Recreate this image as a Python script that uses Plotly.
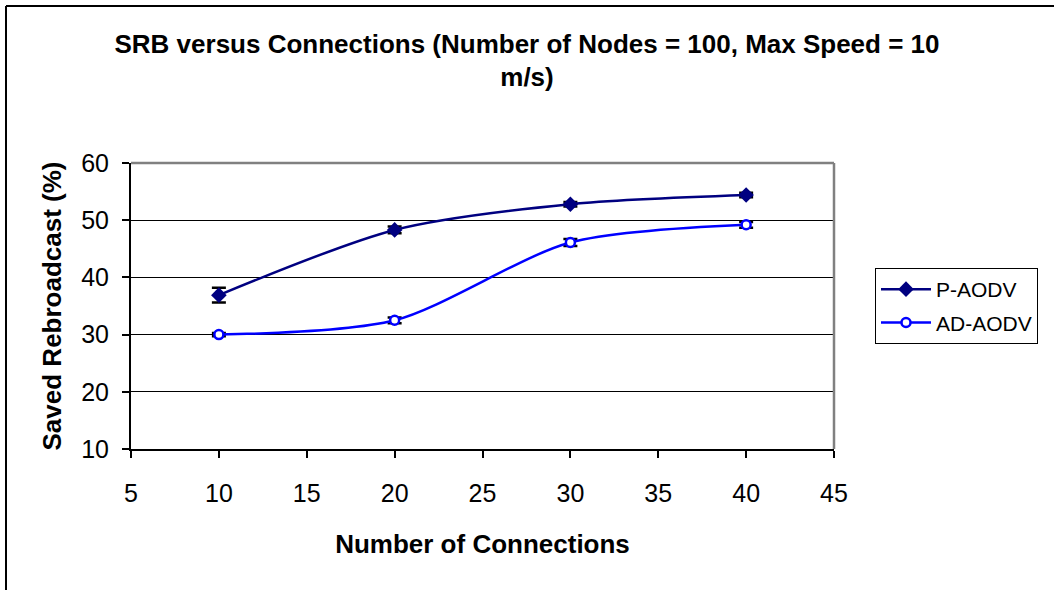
import plotly.graph_objects as go

connections = [10, 20, 30, 40]
p_aodv = [36.9, 48.3, 52.8, 54.4]
p_aodv_err = [1.3, 0.6, 0.4, 0.4]
ad_aodv = [30.0, 32.5, 46.1, 49.2]
ad_aodv_err = [0.3, 0.5, 0.6, 0.5]

font = "Liberation Sans, Arial, sans-serif"

fig = go.Figure()
fig.add_trace(go.Scatter(
    x=connections, y=p_aodv, name="P-AODV", mode="lines+markers", legendgroup="a",
    line=dict(color="#000080", width=2.5, shape="spline", smoothing=0.8),
    marker=dict(symbol="diamond", size=12, color="#000080"),
    error_y=dict(type="data", array=p_aodv_err, color="black", thickness=2.5, width=7),
))
fig.add_trace(go.Scatter(
    x=connections, y=ad_aodv, name="AD-AODV", mode="lines+markers", legendgroup="b",
    line=dict(color="#0000FF", width=2.5, shape="spline", smoothing=0.8),
    marker=dict(symbol="circle", size=9, color="white", line=dict(color="#0000FF", width=2.5)),
    error_y=dict(type="data", array=ad_aodv_err, color="black", thickness=2.5, width=7),
))

# plot area: x 131..834, y 163..449 px
W, H = 703, 286
L, T = 131, 163

fig.update_layout(
    width=1054, height=590,
    margin=dict(l=L, r=1054 - L - W, t=T, b=590 - T - H),
    paper_bgcolor="white", plot_bgcolor="white",
    font=dict(family=font, color="black", size=25),
    title=dict(
        text="<b>SRB versus Connections (Number of Nodes = 100, Max Speed = 10<br>m/s)</b>",
        x=0.5, xref="container", xanchor="center", y=0.911, yanchor="top",
        font=dict(size=26),
    ),
    legend=dict(
        x=(875 - L) / W, y=(T + H - 268) / H, xanchor="left", yanchor="top",
        bordercolor="black", borderwidth=1, font=dict(size=21),
        traceorder="grouped", tracegroupgap=3, itemwidth=50,
    ),
)
fig.update_xaxes(
    range=[5, 45], dtick=5, showgrid=False, zeroline=False,
    showline=True, linecolor="black", linewidth=2,
    ticks="outside", ticklen=7, tickcolor="black", tickwidth=1.5,
    ticklabelstandoff=14,
    title=dict(text="<b>Number of Connections</b>", font=dict(size=26), standoff=29),
)
fig.update_yaxes(
    range=[10, 60], dtick=10, showgrid=True, gridcolor="black", gridwidth=1,
    zeroline=False, showline=True, linecolor="black", linewidth=2,
    ticks="outside", ticklen=7, tickcolor="black", tickwidth=1.5,
    ticklabelstandoff=8,
    title=dict(text="<b>Saved Rebroadcast (%)</b>", font=dict(size=26), standoff=12),
)

# grey border on top and right of the plot area
fig.add_shape(type="line", xref="paper", yref="paper", x0=0, x1=1, y0=1, y1=1,
              line=dict(color="#808080", width=2.5))
fig.add_shape(type="line", xref="paper", yref="paper", x0=1, x1=1, y0=0, y1=1,
              line=dict(color="#808080", width=2.5))

# outer chart frame: only its top and left edges fall inside the picture
fx0 = (6 - L) / W
fy1 = (T + H - 6) / H
fig.add_shape(type="line", xref="paper", yref="paper",
              x0=fx0, x1=(1054 - L) / W, y0=fy1, y1=fy1,
              line=dict(color="black", width=2))
fig.add_shape(type="line", xref="paper", yref="paper",
              x0=fx0, x1=fx0, y0=fy1, y1=(T + H - 590) / H,
              line=dict(color="black", width=2))

fig.write_html("out.html", config={"displayModeBar": False},
               post_script="document.body.style.margin='0';")
